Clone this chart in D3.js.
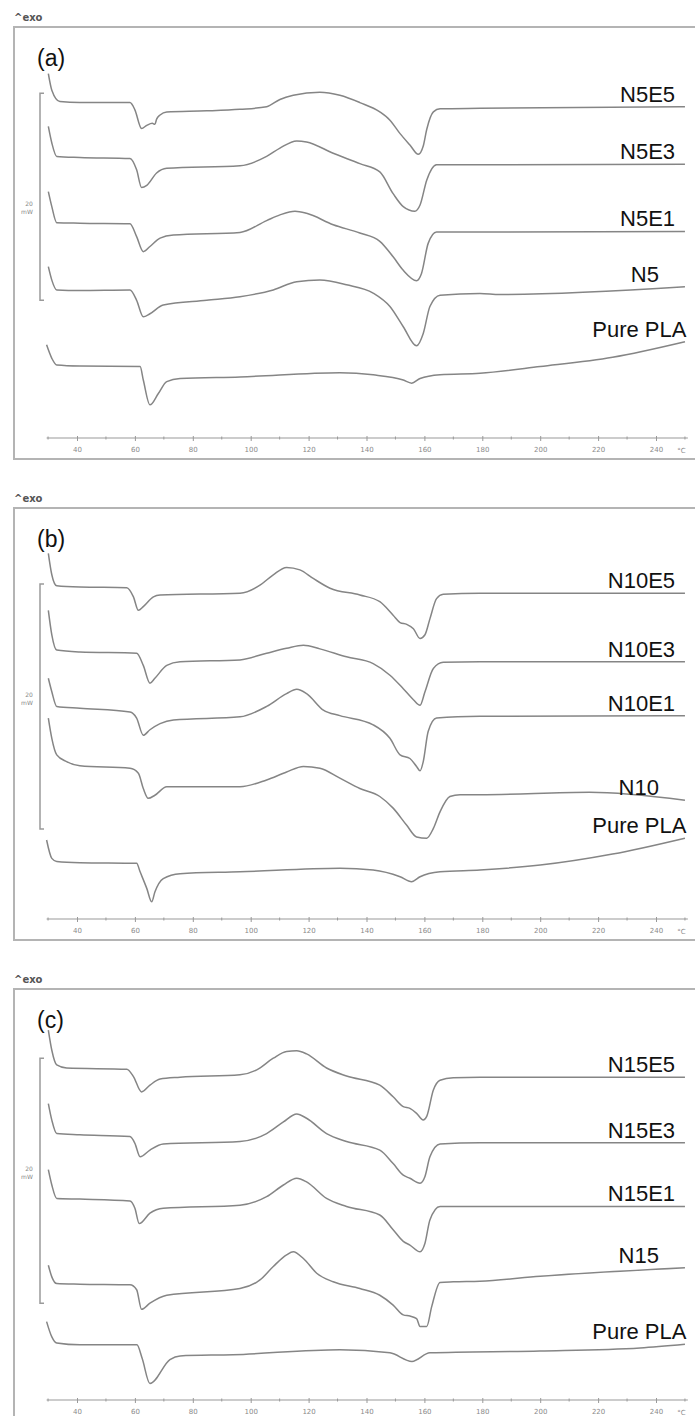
<!DOCTYPE html>
<html>
<head>
<meta charset="utf-8">
<script src="https://cdnjs.cloudflare.com/ajax/libs/d3/7.8.5/d3.min.js"></script>
<style>
  body { margin: 0; background: #fff; }
  svg { display: block; }
</style>
</head>
<body>
<svg id="dsc" width="695" height="1416"></svg>
<script>
// data ---------------------------------------------------------------
// heat flow in mW (exo up, curves stacked as shown), temperature in °C

var panelTags = ["(a)", "(b)", "(c)"];
var labelsA = ["N5E5", "N5E3", "N5E1", "N5", "Pure PLA"];
var labelsB = ["N10E5", "N10E3", "N10E1", "N10", "Pure PLA"];
var labelsC = ["N15E5", "N15E3", "N15E1", "N15", "Pure PLA"];

var tickTemps = [40, 60, 80, 100, 120, 140, 160, 180, 200, 220, 240];
var minorTemps = [30, 50, 70, 90, 110, 130, 150, 170, 190, 210, 230, 250];

// visible heat-flow span of each panel (mW) and the 20 mW scale bar
var panelMaxMW = [39.7, 33.55, 33.55];
var scaleBarFrom = [13.3, 7.35, 7.9];
var scaleBarMW = 20;

var a_N5E5 = [[30.1,35.2],[31.3,33.6],[34.1,32.5],[41,32.4],[58.3,32.4],[60,31.7],[62.3,29.9],[64.1,30.2],[66,30.4],[66.9,30.3],[67.5,30.8],[68.7,31.2],[71,31.5],[84.8,31.6],[96.3,31.75],[105.5,32],[110.1,32.7],[114.7,33.1],[123.9,33.4],[130.8,33.1],[137.7,32.4],[144.6,31.5],[148.1,30.7],[151.6,29.4],[155,28.3],[157.9,27.4],[159.6,28.2],[160.8,29.8],[163.1,31.5],[165.4,31.8],[179.2,31.85],[250,32]];
var a_N5E3 = [[30.1,30.1],[31.3,28.5],[33,27.2],[41,27.1],[58.3,27],[60.6,25.9],[62.3,24.2],[64.1,24.4],[67.5,25.6],[71,26.05],[96.3,26.3],[105.5,27.2],[110.1,28],[115.9,28.7],[119.3,28.6],[128.5,27.5],[137.7,26.5],[144.6,25.7],[149.2,23.6],[152.7,22.35],[156.7,21.9],[158.5,22.5],[160.8,24.9],[164.2,26.4],[179.2,26.4],[250,26.45]];
var a_N5E1 = [[30.1,23.8],[31.3,22.35],[33,20.8],[41,20.75],[58.3,20.7],[60.6,19.45],[62.9,18],[65.2,18.5],[68.7,19.3],[73.3,19.6],[96.3,19.85],[105.5,21],[110.1,21.55],[115.3,21.9],[119.3,21.7],[128.5,20.6],[137.7,19.8],[144.6,19],[149.2,17.5],[152.7,16.2],[157.3,15.2],[159,15.9],[161.3,18.8],[164.2,19.9],[179.2,19.9],[250,19.95]];
var a_N5 = [[30.1,16.55],[31.3,15.25],[33,14.3],[41,14.25],[58.3,14.3],[60.6,13.3],[62.9,11.7],[65.2,12],[69.8,12.85],[84.8,13.3],[96.3,13.65],[107.8,14.3],[115.9,15.1],[123.9,15.25],[133.1,14.8],[142.3,14],[148.1,12.7],[152.7,10.75],[157.3,8.9],[159.6,10.1],[161.9,12.7],[165.4,13.8],[179.2,13.95],[186,13.85],[250,14.6]];
var a_PLA = [[29.5,9],[31.3,7.7],[33,7.05],[41,6.95],[61.8,6.9],[62.9,5.6],[65.2,3.2],[68.1,4.3],[71,5.45],[75.6,5.75],[96.3,5.9],[130.8,6.3],[142.3,6.1],[152.7,5.6],[155.6,5.3],[158.5,5.75],[165.4,6.1],[179.2,6.25],[200,6.9],[225,7.8],[250,9.3]];

var b_N10E5 = [[30.1,29.85],[31.3,28.1],[33,27.2],[41,27.1],[57.2,27.05],[59.5,26.3],[61.2,25.2],[62.9,25.5],[66.4,26.3],[68.7,26.45],[96.3,26.6],[103.2,27.25],[107.8,28.1],[112.4,28.7],[117,28.5],[121.6,27.8],[127.4,27],[137.7,26.45],[144.6,25.9],[149.2,24.8],[151.6,24.2],[153.9,24.05],[156.2,23.7],[158.5,22.9],[160.2,23.2],[161.9,24.5],[164.2,26.15],[166.5,26.5],[179.2,26.6],[250,26.6]];
var b_N10E3 = [[30.1,25.2],[31.3,23.2],[33,21.95],[41,21.8],[60.6,21.7],[62.9,20.7],[65.2,19.25],[66.9,19.65],[71,20.7],[75.6,21],[96.3,21.15],[105.5,21.7],[112.4,22.1],[118.2,22.35],[123.9,22.05],[133.1,21.4],[142.3,20.85],[148.1,19.9],[152.7,18.8],[156.2,17.9],[158.5,17.45],[160.2,18.55],[163.1,20.45],[166.5,20.95],[179.2,21],[250,21]];
var b_N10E1 = [[30.1,19.65],[31.3,18.55],[33,17.35],[41,17.2],[58.3,16.9],[60.6,16.4],[62.9,15],[65.2,15.45],[68.7,15.95],[73.3,16.25],[96.3,16.5],[105.5,17.35],[112.4,18.4],[115.9,18.75],[119.3,18.4],[125.1,17.05],[130.8,16.6],[142.3,15.85],[148.1,14.75],[151.6,13.4],[155,13.1],[157.3,12.45],[158.5,12.1],[159.6,12.85],[161.3,15.3],[164.2,16.4],[179.2,16.55],[250,16.6]];
var b_N10 = [[30.1,16.4],[31.3,14.75],[33,13.4],[36.4,12.85],[41,12.5],[58.3,12.3],[61.2,11.9],[62.9,10.65],[64.6,9.85],[66.9,10.1],[71,10.8],[96.3,10.8],[105.5,11.35],[112.4,12],[118.2,12.45],[123.9,12.3],[130.8,11.5],[137.7,10.65],[144.6,10],[149.2,9.05],[153.9,7.65],[157.3,6.7],[160.8,6.6],[163.1,7.4],[165.4,8.75],[168.8,10],[172.3,10.15],[179.2,10.15],[217,10.35],[250,9.7]];
var b_PLA = [[29.5,6.45],[31.3,4.95],[33,4.7],[41,4.6],[60.6,4.55],[61.8,3.85],[64.1,2.5],[65.8,1.4],[66.9,2.2],[69.8,3.3],[75.6,3.7],[96.3,3.85],[130.8,4.15],[142.3,4],[151.6,3.45],[155.6,3.05],[158.5,3.45],[165.4,3.85],[179.2,4],[200,4.4],[225,5.3],[250,6.6]];

var c_N15E5 = [[30.1,30.2],[31.3,28.55],[33,27.35],[36.4,27.1],[57.2,27],[59.5,26.4],[62.3,25.15],[65.2,25.7],[68.7,26.2],[75.6,26.35],[96.3,26.55],[102.1,26.95],[107.8,27.9],[112.4,28.45],[115.9,28.5],[119.3,28.25],[126.2,27.1],[133.1,26.45],[144.6,25.7],[149.2,24.75],[152.7,23.95],[155,23.8],[157.3,23.4],[159.6,22.85],[160.8,23.15],[163.1,25.3],[165.4,26.1],[170,26.3],[179.2,26.35],[250,26.35]];
var c_N15E3 = [[30.1,24.2],[31.3,22.85],[33,21.75],[41,21.65],[58.3,21.5],[60,20.95],[61.8,19.85],[65.2,20.4],[69.8,20.9],[96.3,21.1],[105.5,21.75],[111.3,22.7],[115.9,23.35],[119.3,23],[126.2,21.75],[133.1,21.1],[144.6,20.4],[149.2,19.3],[152.7,18.35],[155,18.1],[158.5,17.7],[160.2,18.25],[161.9,19.85],[165.4,20.9],[179.2,21],[250,21]];
var c_N15E1 = [[30.1,18.8],[31.3,17.55],[33,16.45],[41,16.4],[58.3,16.25],[60,15.65],[61.5,14.4],[65.2,15.25],[69.8,15.65],[96.3,15.9],[105.5,16.6],[111.3,17.55],[115.9,18.1],[119.3,17.8],[126.2,16.45],[133.1,15.8],[144.6,15.1],[149.2,13.9],[152.7,12.95],[155,12.65],[158.5,12.1],[160.2,12.8],[161.9,14.7],[165.4,15.8],[179.2,15.8],[250,15.8]];
var c_N15 = [[30.1,11],[31.3,10.05],[33,9.5],[41,9.45],[58.3,9.4],[60.6,9],[62.3,7.4],[65.2,7.9],[71,8.55],[96.3,9.1],[103.2,9.8],[107.8,10.9],[112.4,11.85],[114.7,12.1],[118.2,11.55],[122.8,10.35],[128.5,9.65],[137.7,9.1],[144.6,8.55],[149.2,7.75],[152.7,6.95],[155,6.85],[157.3,6.65],[158.5,6],[160.8,6],[162.5,7.6],[165.4,9.6],[170,9.65],[179.2,9.7],[200,10.1],[250,10.8]];
var c_PLA = [[29.5,6.4],[31.3,5.15],[33,4.65],[41,4.5],[60.7,4.5],[62.5,3.4],[65.2,1.35],[72.1,3.3],[75.6,3.6],[93.9,3.7],[130.8,4.1],[148.1,3.85],[155.7,3.15],[161.9,3.85],[199.9,4],[234.5,4.25],[250,4.55]];

var panels = [
	{ tag: panelTags[0], labels: labelsA, curves: [a_N5E5, a_N5E3, a_N5E1, a_N5, a_PLA] },
	{ tag: panelTags[1], labels: labelsB, curves: [b_N10E5, b_N10E3, b_N10E1, b_N10, b_PLA] },
	{ tag: panelTags[2], labels: labelsC, curves: [c_N15E5, c_N15E3, c_N15E1, c_N15, c_PLA] }
];

// layout ---------------------------------------------------------------
var svg = d3.select("#dsc");
var panelTop = [27, 508, 989];
var plotH = 411, frameH = 432;
var frameLeft = 14;
var lineColor = "#858585";
// right end of each sample label, in °C along the axis
var labelEndT = [246.6, 246.6, 246.6, 241, 250.5];

var x = d3.scaleLinear().domain([40, 240]).range([77, 656]);

var line = d3.line()
	.x(d => x(d[0]))
	.curve(d3.curveMonotoneX);

function drawPanel(p, i) {
	var top = panelTop[i];
	var y = d3.scaleLinear().domain([0, panelMaxMW[i]]).range([top + plotH, top]);
	var g = svg.append("g");

	// "^exo" header
	g.append("text")
		.attr("x", frameLeft)
		.attr("y", top - 6)
		.attr("font-family", "DejaVu Sans, sans-serif")
		.attr("font-weight", "bold")
		.attr("font-size", 10)
		.attr("fill", "#555")
		.text("^exo");

	// frame
	g.append("rect")
		.attr("x", frameLeft)
		.attr("y", top)
		.attr("width", 700 - frameLeft)
		.attr("height", frameH)
		.attr("fill", "none")
		.attr("stroke", "#b4b4b4")
		.attr("stroke-width", 2);

	// panel tag
	g.append("text")
		.attr("x", 37)
		.attr("y", top + 39)
		.attr("font-family", "Liberation Sans, Arial, sans-serif")
		.attr("font-size", 23)
		.attr("fill", "#111")
		.text(p.tag);

	// 20 mW scale bar
	var by0 = y(scaleBarFrom[i] + scaleBarMW), by1 = y(scaleBarFrom[i]);
	g.append("path")
		.attr("d", `M44,${by0}H40V${by1}H44`)
		.attr("fill", "none")
		.attr("stroke", "#9a9a9a")
		.attr("stroke-width", 1.5);
	g.append("text")
		.attr("x", 29).attr("y", by0 + 113)
		.attr("text-anchor", "middle")
		.attr("font-family", "DejaVu Sans, sans-serif")
		.attr("font-size", 6)
		.attr("fill", "#888")
		.text(scaleBarMW);
	g.append("text")
		.attr("x", 27).attr("y", by0 + 121)
		.attr("text-anchor", "middle")
		.attr("font-family", "DejaVu Sans, sans-serif")
		.attr("font-size", 6)
		.attr("fill", "#888")
		.text("mW");

	// temperature axis
	var axisY = top + plotH;
	var ax = g.append("g").attr("transform", `translate(0,${axisY})`);
	ax.append("line")
		.attr("x1", x(29.5)).attr("x2", x(251))
		.attr("stroke", "#999").attr("stroke-width", 1.2);
	ax.selectAll(".minor")
		.data(minorTemps)
		.enter()
		.append("line")
		.attr("x1", d => x(d)).attr("x2", d => x(d))
		.attr("y1", -1.5).attr("y2", 1.5)
		.attr("stroke", "#999");
	var axis = d3.axisBottom(x).tickValues(tickTemps).tickSize(3).tickPadding(6);
	var axg = ax.append("g").call(axis);
	axg.select(".domain").remove();
	axg.selectAll(".tick line").attr("stroke", "#999").attr("y1", -2);
	axg.selectAll(".tick text")
		.attr("font-family", "DejaVu Sans, sans-serif")
		.attr("font-size", 7)
		.attr("fill", "#8a8a8a");
	ax.append("text")
		.attr("x", x(248.8)).attr("y", 15)
		.attr("text-anchor", "middle")
		.attr("font-family", "DejaVu Sans, sans-serif")
		.attr("font-size", 7)
		.attr("fill", "#8a8a8a")
		.text("°C");

	// DSC curves
	line.y(d => y(d[1]));
	g.selectAll(".curve")
		.data(p.curves)
		.enter()
		.append("path")
		.attr("d", line)
		.attr("fill", "none")
		.attr("stroke", lineColor)
		.attr("stroke-width", 1.5)
		.attr("stroke-linejoin", "round");

	// sample labels
	g.selectAll(".lbl")
		.data(p.labels)
		.enter()
		.append("text")
		.attr("x", (_, k) => x(labelEndT[k]))
		.attr("y", (_, k) => y(p.curves[k][p.curves[k].length - 1][1]) - 5)
		.attr("text-anchor", "end")
		.attr("font-family", "Liberation Sans, Arial, sans-serif")
		.attr("font-size", 22)
		.attr("fill", "#111")
		.text(d => d);
}

panels.forEach(drawPanel);
</script>
</body>
</html>
